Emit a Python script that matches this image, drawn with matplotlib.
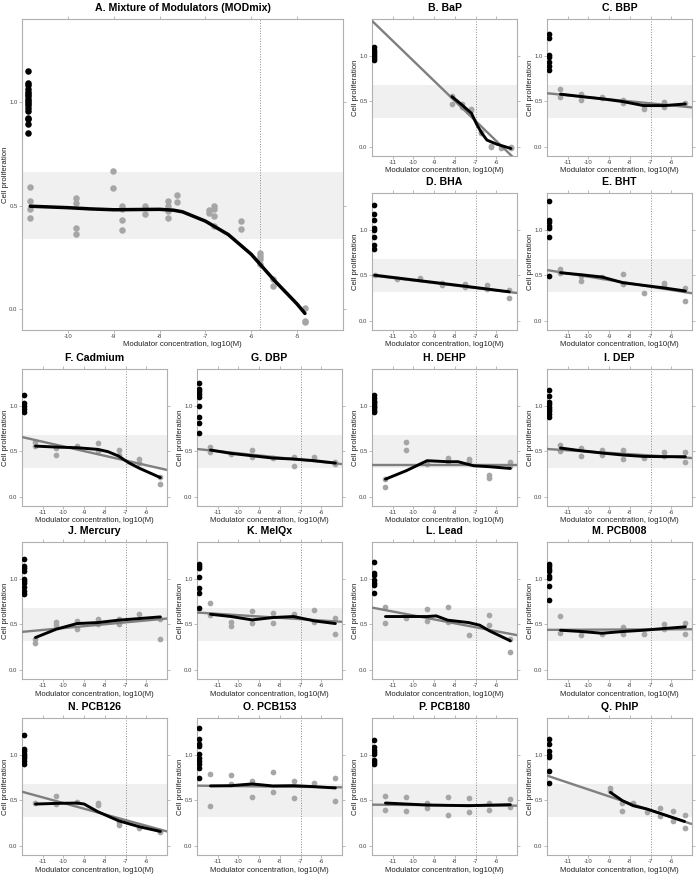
import numpy as np
import matplotlib
matplotlib.use('Agg')
import matplotlib.pyplot as plt

plt.rcParams['font.family'] = ['Liberation Sans', 'DejaVu Sans']
plt.rcParams['axes.unicode_minus'] = False

# panel titles
titles = {
    'A': 'A. Mixture of Modulators (MODmix)', 'B': 'B. BaP', 'C': 'C. BBP',
    'D': 'D. BHA', 'E': 'E. BHT', 'F': 'F. Cadmium', 'G': 'G. DBP',
    'H': 'H. DEHP', 'I': 'I. DEP', 'J': 'J. Mercury', 'K': 'K. MeIQx',
    'L': 'L. Lead', 'M': 'M. PCB008', 'N': 'N. PCB126', 'O': 'O. PCB153',
    'P': 'P. PCB180', 'Q': 'Q. PhIP',
}

# control (untreated) replicates
controls = {
    'A': [1.15, 1.089, 1.082, 1.061, 1.048, 1.04, 1.029, 1.016, 1.005, 0.994,
          0.984, 0.973, 0.956, 0.924, 0.916, 0.892, 0.852],
    'B': [1.09, 1.066, 1.04, 1.018, 1.0, 0.974, 0.956],
    'C': [1.239, 1.188, 1.011, 0.985, 0.926, 0.882, 0.846],
    'D': [1.265, 1.171, 1.109, 1.018, 1.0, 0.916, 0.836, 0.782],
    'E': [1.316, 1.109, 1.08, 1.044, 1.018, 0.92, 0.491],
    'F': [1.11, 1.026, 1.0, 0.963, 0.934],
    'G': [1.249, 1.183, 1.158, 1.121, 1.092, 1.0, 0.872, 0.806, 0.696],
    'H': [1.11, 1.08, 1.055, 1.037, 1.018, 1.0, 0.982, 0.963, 0.945, 0.927],
    'I': [1.172, 1.099, 1.044, 1.018, 0.989, 0.963, 0.945, 0.908, 0.872],
    'J': [1.212, 1.139, 1.113, 1.084, 0.993, 0.974, 0.949, 0.912, 0.865, 0.828],
    'K': [1.157, 1.139, 1.12, 1.018, 0.901, 0.847, 0.672],
    'L': [1.182, 1.058, 1.036, 0.982, 0.956, 0.927, 0.847],
    'M': [1.157, 1.139, 1.109, 1.084, 1.029, 1.01, 0.92, 0.763],
    'N': [1.209, 1.062, 1.037, 1.007, 0.982, 0.96, 0.934, 0.897],
    'O': [1.289, 1.172, 1.117, 1.092, 1.007, 0.963, 0.934, 0.897, 0.853, 0.744],
    'P': [1.154, 1.081, 1.055, 1.033, 1.007, 0.945, 0.916, 0.897],
    'Q': [1.165, 1.11, 1.037, 1.0, 0.978, 0.824, 0.689],
}

std_doses = [-11.35, -10.35, -9.34, -8.34, -7.34, -6.33, -5.32]

# dose positions, log10(M)
dose_x = {
    'A': [-10.82, -9.83, -9.01, -8.82, -8.32, -7.82, -7.62, -6.92, -6.82,
          -6.23, -5.82, -5.53, -4.83],
    'B': [-8.14, -7.66, -7.2, -6.74, -6.26, -5.76, -5.29],
    'D': [-11.87, -10.77, -9.7, -8.62, -7.53, -6.45, -5.37],
    'Q': [-8.94, -8.36, -7.84, -7.17, -6.53, -5.92, -5.36],
}

# treated replicates at each dose
dose_y = {
    'A': [[0.589, 0.521, 0.485, 0.44], [0.537, 0.513, 0.392, 0.363], [0.666, 0.584],
          [0.5, 0.484, 0.432, 0.381], [0.5, 0.46], [0.524, 0.497, 0.473, 0.44],
          [0.553, 0.516], [0.481, 0.465], [0.497, 0.484, 0.452, 0.4], [0.427, 0.387],
          [0.271, 0.255, 0.244, 0.218], [0.145, 0.113], [0.005, -0.056, -0.063]],
    'B': [[0.56, 0.47], [0.47, 0.44], [0.415, 0.40], [0.16, 0.147], [0.01, 0.0],
          [-0.01], [0.0, -0.01]],
    'C': [[0.632, 0.551], [0.577, 0.515], [0.551, 0.533], [0.515, 0.485],
          [0.449, 0.415], [0.496, 0.434], [0.478]],
    'D': [[0.503], [0.456], [0.474], [0.419, 0.395], [0.408, 0.371], [0.393, 0.346],
          [0.335, 0.246]],
    'E': [[0.571, 0.52], [0.491, 0.436], [0.484], [0.509, 0.407], [0.309],
          [0.418, 0.393], [0.364, 0.218]],
    'F': [[0.6, 0.553], [0.53, 0.462], [0.553], [0.589, 0.502], [0.513, 0.46],
          [0.418, 0.375], [0.218, 0.145]],
    'G': [[0.549, 0.495], [0.469], [0.513, 0.432], [0.421], [0.432, 0.333], [0.44],
          [0.385, 0.359]],
    'H': [[0.2, 0.11], [0.604, 0.516], [0.359], [0.421, 0.385], [0.414, 0.396],
          [0.242, 0.212], [0.385, 0.341]],
    'I': [[0.568, 0.505], [0.531, 0.451], [0.513, 0.462], [0.513, 0.414], [0.425],
          [0.487, 0.451], [0.487, 0.377]],
    'J': [[0.336, 0.299], [0.529, 0.489], [0.536, 0.445], [0.555, 0.5], [0.555, 0.507],
          [0.609], [0.555, 0.336]],
    'K': [[0.737, 0.599], [0.526, 0.482], [0.646, 0.511], [0.62, 0.518], [0.609],
          [0.657, 0.526], [0.566, 0.391]],
    'L': [[0.69, 0.511], [0.566], [0.664, 0.536], [0.69, 0.526], [0.38],
          [0.599, 0.489], [0.336, 0.2]],
    'M': [[0.591, 0.409], [0.38], [0.398], [0.471, 0.391], [0.391], [0.5, 0.445],
          [0.511, 0.391]],
    'N': [[0.465], [0.549, 0.458], [0.484], [0.465, 0.447], [0.256, 0.231], [0.201],
          [0.165, 0.147]],
    'O': [[0.788, 0.44], [0.777, 0.678], [0.714, 0.531], [0.806, 0.593],
          [0.714, 0.524], [0.685], [0.744, 0.487]],
    'P': [[0.549, 0.392], [0.538, 0.377], [0.469, 0.41], [0.538, 0.337],
          [0.52, 0.374], [0.469, 0.392], [0.513, 0.421]],
    'Q': [[0.634, 0.604], [0.465, 0.385], [0.465], [0.366], [0.414, 0.33],
          [0.377, 0.275], [0.341, 0.201]],
}

# linear fit, value at x=-12 and x=-5
fit_ends = {
    'B': (1.38, -0.155), 'C': (0.587, 0.432), 'D': (0.497, 0.305), 'E': (0.556, 0.302),
    'F': (0.655, 0.295), 'G': (0.524, 0.359), 'H': (0.348, 0.348), 'I': (0.524, 0.425),
    'J': (0.416, 0.562), 'K': (0.628, 0.526), 'L': (0.682, 0.38), 'M': (0.438, 0.445),
    'N': (0.593, 0.158), 'O': (0.659, 0.641), 'P': (0.451, 0.44), 'Q': (0.769, 0.238),
}

# smoothed curve
smooth_x = {
    'A': [-10.82, -10, -9.5, -9, -8, -7.7, -7.5, -7, -6.5, -6, -5.5, -5, -4.83],
    'B': [-8.14, -7.66, -7.2, -6.93, -6.69, -6.45, -5.97, -5.29],
    'D': [-11.87, -9.7, -7.53, -5.37],
    'F': [-11.35, -10.35, -9.34, -8.34, -7.85, -7.34, -6.86, -6.33, -5.32],
    'H': [-11.35, -10.35, -9.34, -8.34, -7.85, -7.1, -6.33, -5.32],
    'L': [-11.35, -10.35, -9.34, -8.9, -8.34, -7.34, -6.8, -6.33, -5.32],
    'N': [-11.35, -10.35, -9.34, -9.0, -8.34, -7.34, -6.33, -5.32],
    'P': [-11.35, -9.34, -7.34, -5.32],
    'Q': [-8.94, -8.36, -7.84, -7.17, -6.53, -5.36],
}
smooth_y = {
    'A': [0.497, 0.49, 0.484, 0.48, 0.482, 0.478, 0.47, 0.425, 0.36, 0.265, 0.14,
          0.025, -0.02],
    'B': [0.55, 0.46, 0.368, 0.24, 0.147, 0.074, 0.029, -0.018],
    'C': [0.577, 0.551, 0.526, 0.496, 0.452, 0.452, 0.47],
    'D': [0.50, 0.44, 0.38, 0.318],
    'E': [0.527, 0.505, 0.48, 0.418, 0.389, 0.36, 0.327],
    'F': [0.556, 0.545, 0.538, 0.52, 0.495, 0.447, 0.375, 0.313, 0.211],
    'G': [0.513, 0.476, 0.45, 0.425, 0.414, 0.396, 0.37],
    'H': [0.194, 0.286, 0.396, 0.385, 0.385, 0.341, 0.33, 0.311],
    'I': [0.535, 0.505, 0.48, 0.458, 0.443, 0.44, 0.44],
    'J': [0.354, 0.445, 0.507, 0.518, 0.544, 0.562, 0.58],
    'K': [0.609, 0.584, 0.547, 0.573, 0.584, 0.536, 0.507],
    'L': [0.584, 0.584, 0.584, 0.591, 0.544, 0.518, 0.489, 0.427, 0.318],
    'M': [0.434, 0.42, 0.401, 0.42, 0.434, 0.453, 0.471],
    'N': [0.458, 0.465, 0.469, 0.458, 0.374, 0.275, 0.209, 0.158],
    'O': [0.656, 0.659, 0.678, 0.656, 0.659, 0.648, 0.634],
    'P': [0.469, 0.447, 0.44, 0.451],
    'Q': [0.586, 0.495, 0.44, 0.403, 0.355, 0.267],
}

W, H = 697, 876
fig = plt.figure(figsize=(W / 100, H / 100), dpi=100)

col_x = [22, 197, 372, 547]
row_y = [19, 193, 369, 542, 718]
pw, ph = 145, 137

boxes = {'A': (22, 19, 321, 311),
         'B': (col_x[2], row_y[0], pw, ph), 'C': (col_x[3], row_y[0], pw, ph),
         'D': (col_x[2], row_y[1], pw, ph), 'E': (col_x[3], row_y[1], pw, ph)}
for r, keys in zip(row_y[2:], ['FGHI', 'JKLM', 'NOPQ']):
    for c, k in zip(col_x, keys):
        boxes[k] = (c, r, pw, ph)

edge = '#b0b0b0'
grey_pt = '#a6a6a6'

for k, (x0, y0, w, h) in boxes.items():
    ax = fig.add_axes([x0 / W, 1 - (y0 + h) / H, w / W, h / H])
    big = k == 'A'
    if big:
        xlim, xt, ctrl_x, vline, band = (-11, -4), range(-10, -4), -10.88, -5.8, (0.34, 0.66)
        ms = 22
    else:
        xlim, xt, ctrl_x, vline, band = (-12, -5), range(-11, -5), -11.92, -7, (0.32, 0.68)
        ms = 17
    ax.axhspan(*band, color='#f0f0f0', lw=0, zorder=0)
    ax.axvline(vline, color='#8a8a8a', ls=':', lw=0.7, zorder=1)

    xs = dose_x.get(k, std_doses)
    for x, ys in zip(xs, dose_y[k]):
        ax.scatter([x] * len(ys), ys, s=ms, color=grey_pt, lw=0, zorder=2)
    ax.scatter([ctrl_x] * len(controls[k]), controls[k], s=ms, color='black', lw=0, zorder=3)

    if k in fit_ends:
        ax.plot([-12, -5], fit_ends[k], color='#7f7f7f', lw=1.7, zorder=4,
                solid_capstyle='butt')
    ax.plot(smooth_x.get(k, std_doses), smooth_y[k], color='black',
            lw=2.5 if big else 2.1, zorder=5, solid_capstyle='round')

    ax.set_xlim(*xlim)
    ax.set_ylim(-0.1, 1.4)
    ax.set_xticks(list(xt))
    ax.set_xticklabels([str(v) for v in xt])
    ax.set_yticks([0, 0.5, 1.0])
    ax.set_yticklabels(['0.0', '0.5', '1.0'])
    for s in ax.spines.values():
        s.set_color(edge)
        s.set_linewidth(0.8)
    ax.tick_params(direction='out', length=2.2, width=0.6, color=edge,
                   labelcolor='#444444', labelsize=4.3, pad=1.0,
                   top=True, right=True)
    ax.set_title(titles[k], fontsize=7.6, fontweight='bold', pad=6)
    ax.set_xlabel('Modulator concentration, log10(M)', fontsize=5.6, color='#222222')
    ax.set_ylabel('Cell proliferation', fontsize=5.6, color='#222222')
    ax.yaxis.set_label_coords(-16.5 / w, 0.5)
    ax.xaxis.set_label_coords(0.5, -15 / h)
    ax.xaxis.label.set_va('center')
    ax.yaxis.label.set_va('center')

fig.savefig('out.png', dpi=100)
